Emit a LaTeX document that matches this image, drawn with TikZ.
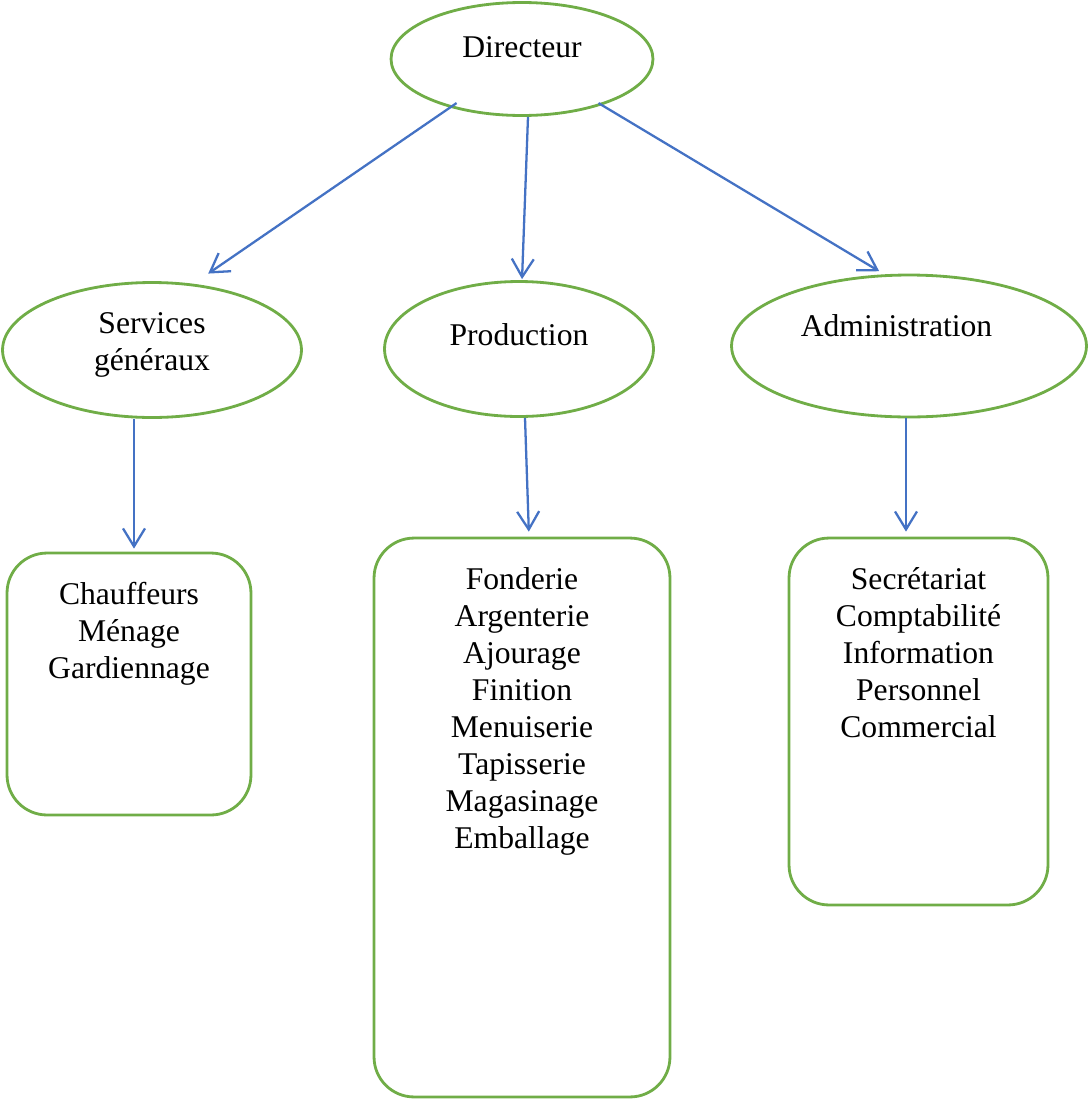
\documentclass[tikz,border=0pt]{standalone}
\usepackage{fontspec}
\setmainfont{Liberation Serif}
\usetikzlibrary{shapes.geometric,arrows.meta}

\definecolor{ovalgreen}{HTML}{70AD47}
\definecolor{arrowblue}{HTML}{4472C4}

\begin{document}
\begin{tikzpicture}[x=0.02cm,y=-0.02cm,
		oval/.style={ellipse, draw=ovalgreen, line width=1.6pt, inner sep=0pt},
		box/.style={rectangle, rounded corners=0.8cm, draw=ovalgreen, line width=1.6pt, inner sep=0pt},
		lbl/.style={inner sep=0pt, align=center, font=\fontsize{18}{21}\selectfont},
		arr/.style={arrowblue, line width=1.3pt, -{Straight Barb[length=0.36cm,width=0.44cm]}}]
		
		\useasboundingbox (0,0) rectangle (1089,1099);
		
		% top level
		\node[oval, minimum width=5.24cm, minimum height=2.26cm] (dir) at (522,59) {};
		\node[lbl] (dirtxt) at ([yshift=0.24cm]dir.center) {Directeur};
		
		% second level
		\node[oval, minimum width=5.98cm, minimum height=2.7cm] (srv) at (152,350) {};
		\node[lbl] (srvtxt) at ([yshift=0.1cm]srv.center) {Services\\généraux};
		\node[oval, minimum width=5.38cm, minimum height=2.7cm] (prod) at (519,349) {};
		\node[lbl] (prodtxt) at ([yshift=0.28cm]prod.center) {Production};
		\node[oval, minimum width=7.1cm, minimum height=2.84cm] (adm) at (909,346) {};
		\node[lbl] (admtxt) at ([xshift=-0.25cm,yshift=0.4cm]adm.center) {Administration};
		
		% boxes
		\node[box, minimum width=4.88cm, minimum height=5.24cm] (gen) at (129,684) {};
		\node[lbl, anchor=north] (gentxt) at ([yshift=-0.6cm]gen.north) {Chauffeurs\\Ménage\\Gardiennage};
		\node[box, minimum width=5.92cm, minimum height=11.18cm] (atel) at (522,817.5) {};
		\node[lbl, anchor=north] (ateltxt) at ([yshift=-0.62cm]atel.north) {Fonderie\\Argenterie\\Ajourage\\Finition\\Menuiserie\\Tapisserie\\Magasinage\\Emballage};
		\node[box, minimum width=5.18cm, minimum height=7.34cm] (bur) at (918.5,721.5) {};
		\node[lbl, anchor=north] (burtxt) at ([yshift=-0.62cm]bur.north) {Secrétariat\\Comptabilité\\Information\\Personnel\\Commercial};
		
		% arrows
		\draw[arr, shorten <=-0.16cm, shorten >=0.36cm] (dir.214) -- (srv.58);
		\draw[arr, shorten >=0.02cm] ([xshift=0.12cm]dir.south) -- ([xshift=0.06cm]prod.north);
		\draw[arr, shorten <=-0.08cm, shorten >=0.12cm] (dir.330) -- (adm.109);
		\draw[arr, shorten >=0.06cm] ([xshift=0.1cm]srv.south -| gen.north) -- ([xshift=0.1cm]gen.north);
		\draw[arr, shorten >=0.1cm] ([xshift=0.12cm]prod.south) -- ([xshift=0.14cm]atel.north);
		\draw[arr, shorten >=0.1cm] ([xshift=-0.06cm]adm.south) -- ([xshift=-0.06cm]adm.south |- bur.north);
		
	\end{tikzpicture}
\end{document}
